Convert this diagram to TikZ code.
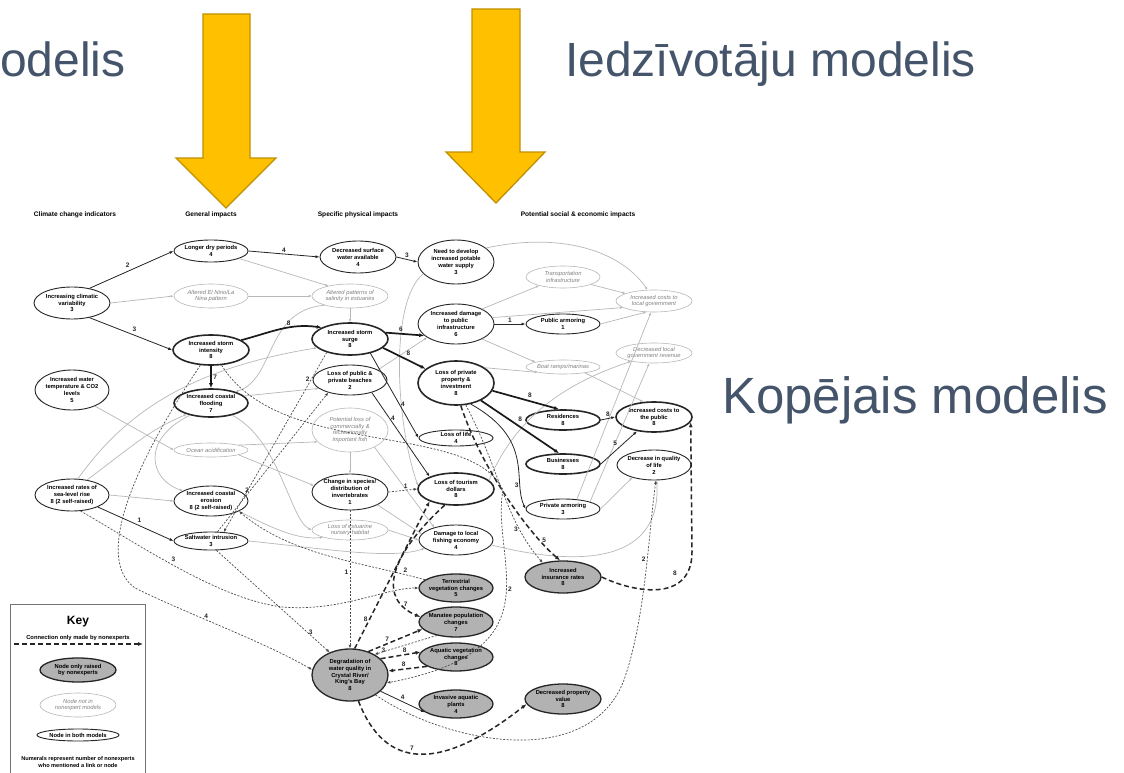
\documentclass[tikz,border=0pt]{standalone}
\usepackage{fontspec}
\setmainfont{Liberation Sans}
\usetikzlibrary{shapes.geometric,arrows.meta}
\definecolor{slate}{HTML}{44546A}
\definecolor{gold}{HTML}{FFC000}
\definecolor{golddk}{HTML}{BF9000}
\definecolor{lgray}{HTML}{B8B8B8}
\definecolor{nfill}{HTML}{B2B2B2}
\begin{document}
\begin{tikzpicture}[x=1pt,y=-1pt,
  wh/.style 2 args={minimum width=#1pt,minimum height=#2pt},
  base/.style={ellipse,inner xsep=-20pt,inner ysep=-8pt,align=center},
  nd/.style={base,draw=black!85,line width=0.9pt,font=\fontsize{5.8}{6.9}\selectfont\bfseries},
  thk/.style={nd,line width=1.6pt},
  exn/.style={base,draw=lgray,line width=0.6pt,text=black!50,font=\fontsize{5.8}{6.9}\selectfont\itshape},
  nex/.style={nd,fill=nfill,line width=1.3pt},
  hdr/.style={font=\fontsize{6.6}{7}\selectfont\bfseries},
  big/.style={text=slate,font=\fontsize{48}{50}\selectfont,inner sep=0pt},
  lab/.style={font=\fontsize{6.5}{7}\selectfont\bfseries,inner sep=1.5pt,text=black!85},
  dk/.style={draw=black!85,line width=0.8pt,-{Latex[length=4pt,width=3pt]}},
  dkk/.style={draw=black!90,line width=1.7pt,-{Latex[length=5pt,width=4pt]}},
  gra/.style={draw=lgray,line width=0.7pt,-{Latex[length=3pt,width=2.5pt]}},
  dsh/.style={draw=black!85,line width=1.5pt,dash pattern=on 5pt off 3pt,-{Latex[length=5pt,width=4pt]}},
  dot/.style={draw=black!70,line width=0.7pt,dash pattern=on 2pt off 1.5pt,-{Latex[length=3.5pt,width=3pt]}}
]
\useasboundingbox (0,0) rectangle (1124,773);
\clip (0,0) rectangle (1124,773);
\fill[white] (0,0) rectangle (1124,773);

% titles
\node[big,anchor=base west] (t1) at (0,77) {odelis};
\node[big,anchor=base west] (t2) at (565,77) {Iedzīvotāju modelis};
\node[big,anchor=base west,font=\fontsize{51}{53}\selectfont] (t3) at (722,413) {Kopējais modelis};

% yellow arrows
\filldraw[fill=gold,draw=golddk,line width=1.3pt,line join=miter]
  (203,14) -- (250,14) -- (250,158) -- (276,158) -- (226,208) -- (176,158) -- (203,158) -- cycle;
\filldraw[fill=gold,draw=golddk,line width=1.3pt,line join=miter]
  (472,9) -- (520,9) -- (520,152) -- (545,152) -- (496,203) -- (446,152) -- (472,152) -- cycle;

% headers
\node[hdr] (h1) at (75,215) {Climate change indicators};
\node[hdr] (h2) at (211,215) {General impacts};
\node[hdr] (h3) at (358,215) {Specific physical impacts};
\node[hdr] (h4) at (578,215) {Potential social \& economic impacts};

% nodes column 1
\node[nd,wh={76}{32}] (icv) at (72,303) {Increasing climatic\\variability\\3};
\node[nd,wh={74}{40}] (iwt) at (72,390) {Increased water\\temperature \& CO2\\levels\\5};
\node[nd,wh={74}{32}] (slr) at (72,495) {Increased rates of\\sea-level rise\\8 (2 self-raised)};
% column 2
\node[nd,wh={74}{22}] (ldp) at (211,251) {Longer dry periods\\4};
\node[exn,wh={74}{24}] (enl) at (211,296) {Altered El Nino/La\\Nina pattern};
\node[thk,wh={76}{30}] (isi) at (211,350) {Increased storm\\intensity\\8};
\node[thk,wh={74}{28}] (icf) at (211,403) {Increased coastal\\flooding\\7};
\node[exn,wh={74}{14}] (oa) at (211,450) {Ocean acidification};
\node[nd,wh={74}{30}] (ice) at (211,501) {Increased coastal\\erosion\\8 (2 self-raised)};
\node[nd,wh={74}{18}] (swi) at (211,541) {Saltwater intrusion\\3};
% column 3
\node[nd,wh={76}{32}] (dsw) at (358,257) {Decreased surface\\water available\\4};
\node[exn,wh={76}{24}] (aps) at (350,296) {Altered patterns of\\salinity in estuaries};
\node[thk,wh={76}{32}] (iss) at (350,339) {Increased storm\\surge\\8};
\node[nd,wh={74}{30}] (lpb) at (350,380) {Loss of public \&\\private beaches\\2};
\node[exn,wh={76}{44}] (plf) at (350,430) {Potential loss of\\commercially \&\\recreationally\\important fish};
\node[nd,wh={76}{36}] (csi) at (350,492) {Change in species/\\distribution of\\invertebrates\\1};
\node[exn,wh={76}{20}] (len) at (350,530) {Loss of estuarine\\nursery habitat};
% column 4
\node[nd,wh={76}{44}] (ndw) at (456,262) {Need to develop\\increased potable\\water supply\\3};
\node[nd,wh={76}{40}] (idp) at (456,324) {Increased damage\\to public\\infrastructure\\6};
\node[thk,wh={76}{44}] (lpp) at (456,383) {Loss of private\\property \&\\investment\\8};
\node[nd,wh={74}{16}] (lol) at (456,438) {Loss of life\\4};
\node[thk,wh={76}{32}] (ltd) at (456,489) {Loss of tourism\\dollars\\8};
\node[nd,wh={74}{30}] (dlf) at (456,540) {Damage to local\\fishing economy\\4};
% column 5
\node[exn,wh={74}{22}] (ti) at (563,277) {Transportation\\infrastructure};
\node[nd,wh={74}{20}] (pa) at (563,324) {Public armoring\\1};
\node[exn,wh={74}{14}] (brm) at (563,367) {Boat ramps/marinas};
\node[thk,wh={74}{20}] (res) at (563,420) {Residences\\8};
\node[thk,wh={74}{20}] (bus) at (563,464) {Businesses\\8};
\node[nd,wh={74}{20}] (pra) at (563,509) {Private armoring\\3};
% column 6
\node[exn,wh={76}{22}] (icl) at (654,301) {Increased costs to\\local government};
\node[exn,wh={76}{20}] (dlr) at (654,353) {Decreased local\\government revenue};
\node[thk,wh={76}{30}] (icp) at (654,417) {Increased costs to\\the public\\8};
\node[nd,wh={74}{30}] (dql) at (654,465) {Decrease in quality\\of life\\2};
% nonexpert nodes
\node[nex,wh={76}{32}] (iir) at (563,577) {Increased\\insurance rates\\8};
\node[nex,wh={74}{28}] (tvc) at (456,588) {Terrestrial\\vegetation changes\\5};
\node[nex,wh={74}{30}] (mpc) at (456,622) {Manatee population\\changes\\7};
\node[nex,wh={74}{28}] (avc) at (456,657) {Aquatic vegetation\\changes\\8};
\node[nex,wh={74}{28}] (iap) at (456,704) {Invasive aquatic\\plants\\4};
\node[nex,wh={76}{52}] (dwq) at (350,675) {Degradation of\\water quality in\\Crystal River/\\King's Bay\\8};
\node[nex,wh={76}{30}] (dpv) at (563,699) {Decreased property\\value\\8};

% gray (expert-only) connections
\draw[gra] (ldp.-15) -- (aps.155);
\draw[gra] (icv.east) -- (enl.west);
\draw[gra] (enl.east) -- (aps.west);
\draw[gra] (aps.south) -- (iss.north);
\draw[gra] (aps.200) .. controls (265,310) and (275,380) .. (icf.25);
\draw[gra] (slr.70) .. controls (120,420) and (180,370) .. (iss.195);
\draw[gra] (slr.45) .. controls (140,440) and (150,430) .. (icf.205);
\draw[gra] (slr.east) -- (ice.west);
\draw[gra] (iwt.-35) -- (oa.west);
\draw[gra] (oa.10) -- (plf.200);
\draw[gra] (oa.-10) -- (csi.170);
\draw[gra] (icf.12) -- (lpb.195);
\draw[gra] (icf.-150) .. controls (140,440) and (150,480) .. (ice.160);
\draw[gra] (icf.-30) .. controls (280,440) and (290,520) .. (len.west);
\draw[gra] (ice.-20) .. controls (275,530) and (300,540) .. (len.195);
\draw[gra] (swi.east) .. controls (320,548) and (390,560) .. (dlf.195);
\draw[gra] (plf.south) -- (csi.north);
\draw[gra] (plf.-35) -- (dlf.150);
\draw[gra] (csi.-25) -- (dlf.170);
\draw[gra] (len.east) -- (dlf.west);
\draw[gra] (lpb.20) -- (idp.205);
\draw[gra] (ndw.200) .. controls (390,300) and (395,420) .. (ltd.175);
\draw[gra] (ndw.25) .. controls (560,232) and (620,250) .. (icl.120);
\draw[gra] (idp.30) -- (ti.200);
\draw[gra] (ti.-15) -- (icl.165);
\draw[gra] (idp.10) -- (icl.192);
\draw[gra] (pa.east) -- (icl.-125);
\draw[gra] (idp.-30) -- (brm.170);
\draw[gra] (lpp.28) -- (brm.192);
\draw[gra] (brm.-15) -- (icp.125);
\draw[gra] (pra.35) -- (icl.-105);
\draw[gra] (pra.15) -- (dlr.-115);
\draw[gra] (pra.east) -- (dql.-150);
\draw[gra] (dlf.-8) .. controls (570,565) and (662,568) .. (dql.-80);
\draw[gra] (ltd.15) .. controls (515,420) and (560,385) .. (dlr.200);

% solid dark connections (both models)
\draw[dk] (icv.40) -- node[lab,above left]{2} (ldp.west);
\draw[dk] (icv.-40) -- node[lab,above right]{3} (isi.west);
\draw[dk] (ldp.east) -- node[lab,above]{4} (dsw.west);
\draw[dk] (dsw.east) -- node[lab,above]{3} (ndw.west);
\draw[dkk] (isi.18) to[out=15,in=172] node[lab,above,pos=0.6]{8} (iss.158);
\draw[dkk] (isi.south) -- node[lab,right]{7} (icf.north);
\draw[dkk] (iss.10) -- node[lab,above left]{6} (idp.200);
\draw[dkk] (iss.-15) -- node[lab,above right]{8} (lpp.155);
\draw[dk] (iss.-35) -- node[lab,right,pos=0.6]{4} (lol.west);
\draw[dk] (lpb.-30) -- node[lab,right,pos=0.3]{4} (ltd.155);
\draw[dk] (idp.east) -- node[lab,above]{1} (pa.west);
\draw[dkk] (lpp.-12) -- node[lab,above right]{8} (res.110);
\draw[dkk] (lpp.-35) -- node[lab,above right,pos=0.45]{8} (bus.110);
\draw[dk] (lpp.-55) .. controls (535,440) and (512,480) .. node[lab,left,pos=0.75]{3} (pra.west);
\draw[dk] (res.east) -- node[lab,above]{8} (icp.west);
\draw[dk] (bus.east) -- node[lab,above left]{5} (icp.-140);
\draw[dk] (slr.-25) -- node[lab,above right]{1} (swi.west);
\draw[dk] (dwq.-28) -- node[lab,above]{4} (iap.195);

% nonexpert-only connections
\coordinate (c1) at (692,552);
\draw[dsh] (iir.east) .. controls (640,595) and (692,600) .. (c1) -- (icp.-8);
\node[lab] (l8) at (675,573) {8};
\draw[dsh] (lpp.-78) .. controls (482,470) and (530,535) .. node[lab,right,pos=0.8]{5} (iir.100);
\draw[dot] (lpp.-66) .. controls (500,470) and (505,520) .. node[lab,left,pos=0.75]{3} (iir.145);
\draw[dsh] (dwq.80) -- node[lab,left,pos=0.2]{8} (ltd.205);
\draw[dsh] (ltd.235) .. controls (385,560) and (380,600) .. node[lab,right,pos=0.8]{7} (mpc.172);
\draw[dsh] (dwq.52) -- node[lab,above,pos=0.35]{7} (mpc.192);
\draw[dsh] (dwq.28) -- node[lab,above,pos=0.6]{8} (avc.172);
\draw[dsh] (avc.198) -- node[lab,above,pos=0.6]{8} (dwq.6);
\draw[dot] (mpc.215) -- node[lab,left,pos=0.8]{3} (dwq.40);
\draw[dsh] (dwq.-72) .. controls (385,770) and (440,772) .. node[lab,above,pos=0.45]{7} (dpv.188);
\draw[dot] (csi.south) -- node[lab,left,pos=0.45]{1} (dwq.north);
\draw[dot] (csi.east) -- node[lab,above,pos=0.6]{1} (ltd.west);
\coordinate (c2) at (135,588);
\draw[dot] (isi.-125) .. controls (130,470) and (95,560) .. (c2) .. controls (190,615) and (260,640) .. node[lab,above,pos=0.4]{4} (dwq.172);
\coordinate (c3) at (283,607);
\draw[dot] (slr.-62) .. controls (140,545) and (220,600) .. node[lab,above right,pos=0.45]{3} (c3) .. controls (340,612) and (385,588) .. (tvc.west);
\draw[dot] (swi.-60) -- node[lab,right,pos=0.8]{3} (dwq.132);
\draw[dot] (iss.-150) -- node[lab,left,pos=0.15]{2} (swi.35);
\draw[dot] (swi.55) -- node[lab,left,pos=0.3]{2} (lpb.-150);
\draw[dot] (tvc.165) .. controls (360,562) and (290,555) .. node[lab,above,pos=0.1]{2} (ice.-20);
\coordinate (c4) at (503,490);
\draw[dot] (isi.-55) .. controls (280,460) and (470,420) .. (c4) .. controls (490,560) and (560,650) .. node[lab,right,pos=0.45]{2} (dwq.-12);
\coordinate (c5) at (624,680);
\draw[dot] (dwq.-38) .. controls (450,745) and (590,770) .. (c5) .. controls (645,620) and (648,540) .. node[lab,left,pos=0.6]{2} (dql.-83);

% key
\node[draw=black!55,line width=1pt,minimum width=135pt,minimum height=190pt,anchor=north west,inner sep=0pt] (key) at (10,604) {};
\node[font=\fontsize{12}{13}\selectfont\bfseries] (keyt) at (78,622) {Key};
\node[font=\fontsize{5.8}{6.5}\selectfont\bfseries] (keyc) at (78,638) {Connection only made by nonexperts};
\coordinate (k1) at (14,644);
\coordinate (k2) at (143,644);
\draw[dsh] (k1) -- (k2);
\node[nex,wh={76}{24}] (kn1) at (78,670) {Node only raised\\by nonexperts};
\node[exn,wh={76}{24}] (kn2) at (78,705) {Node not in\\nonexpert models};
\node[nd,wh={82}{12}] (kn3) at (78,735) {Node in both models};
\node[align=center,font=\fontsize{5.6}{6.6}\selectfont\bfseries] (kn4) at (78,762) {Numerals represent number of nonexperts\\who mentioned a link or node};
\end{tikzpicture}
\end{document}
